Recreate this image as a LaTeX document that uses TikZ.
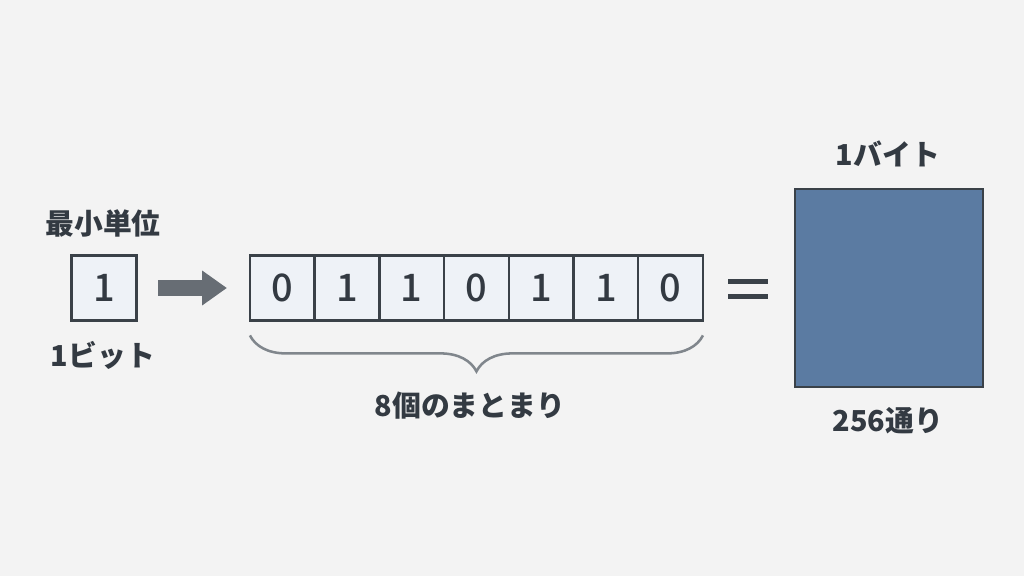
\documentclass[tikz,border=0pt]{standalone}
\usepackage{fontspec}
\setmainfont{Noto Sans CJK JP}
\newfontfamily\jpmed{Noto Sans CJK JP Medium}
\usetikzlibrary{positioning,arrows.meta,decorations.pathreplacing}
\definecolor{bgcol}{HTML}{F3F3F3}
\definecolor{boxfill}{HTML}{EEF2F7}
\definecolor{edge}{HTML}{3A4148}
\definecolor{txt}{HTML}{333A42}
\definecolor{arrowgray}{HTML}{676D74}
\definecolor{bracegray}{HTML}{80868C}
\definecolor{bytefill}{HTML}{5B7BA2}
\tikzset{
	bitbox/.style={draw=edge, line width=1.7pt, fill=boxfill, minimum width=1.62cm,
		minimum height=1.62cm, inner sep=0pt, outer sep=0pt, text=txt,
		font=\jpmed\fontsize{27pt}{30pt}\selectfont},
	jptext/.style={text=txt, font=\fontsize{20.5pt}{24pt}\selectfont\bfseries}
}
\begin{document}
\begin{tikzpicture}[x=0.025cm,y=-0.025cm]
	
	\fill[bgcol](0,0) rectangle (1024,576);
	
	% one bit
	\node[bitbox] (one) at (104,288) {1};
	\node[jptext] (smallest) at (103,223) {最小単位};
	\node[jptext] (bitname) at (103,355) {1ビット};
	
	% eight bits
	\foreach \v [count=\i] in {0,1,1,0,1,1,0}
	\node[bitbox] (b\i) at ({250+64.7*(\i-0.5)},288) {\v};
	
	\draw[arrowgray,line width=0.4cm,shorten <=0.55cm,shorten >=0.575cm,
	-{Triangle[length=0.62cm,width=0.83cm]}](one)--(b1);
	
	\path (b1.south west)++(0,15) coordinate (bl);
	\path (b7.south east)++(0,15) coordinate (br);
	\draw[bracegray,line width=1.8pt,decorate,
	decoration={brace,mirror,amplitude=0.9cm}](bl)--(br);
	\node[jptext] (group) at (470,406) {8個のまとまり};
	
	% equals
	\draw[edge,line width=0.125cm](728,282)--(768,282);
	\draw[edge,line width=0.125cm](728,297)--(768,297);
	
	% one byte
	\node[draw=edge,line width=2pt,fill=bytefill,minimum width=4.7cm,
	minimum height=4.95cm,outer sep=0pt] (byte) at (889,288) {};
	\node[jptext] (bytename) at (888,154) {1バイト};
	\node[jptext] (count) at (888,421) {256通り};
	
\end{tikzpicture}
\end{document}
